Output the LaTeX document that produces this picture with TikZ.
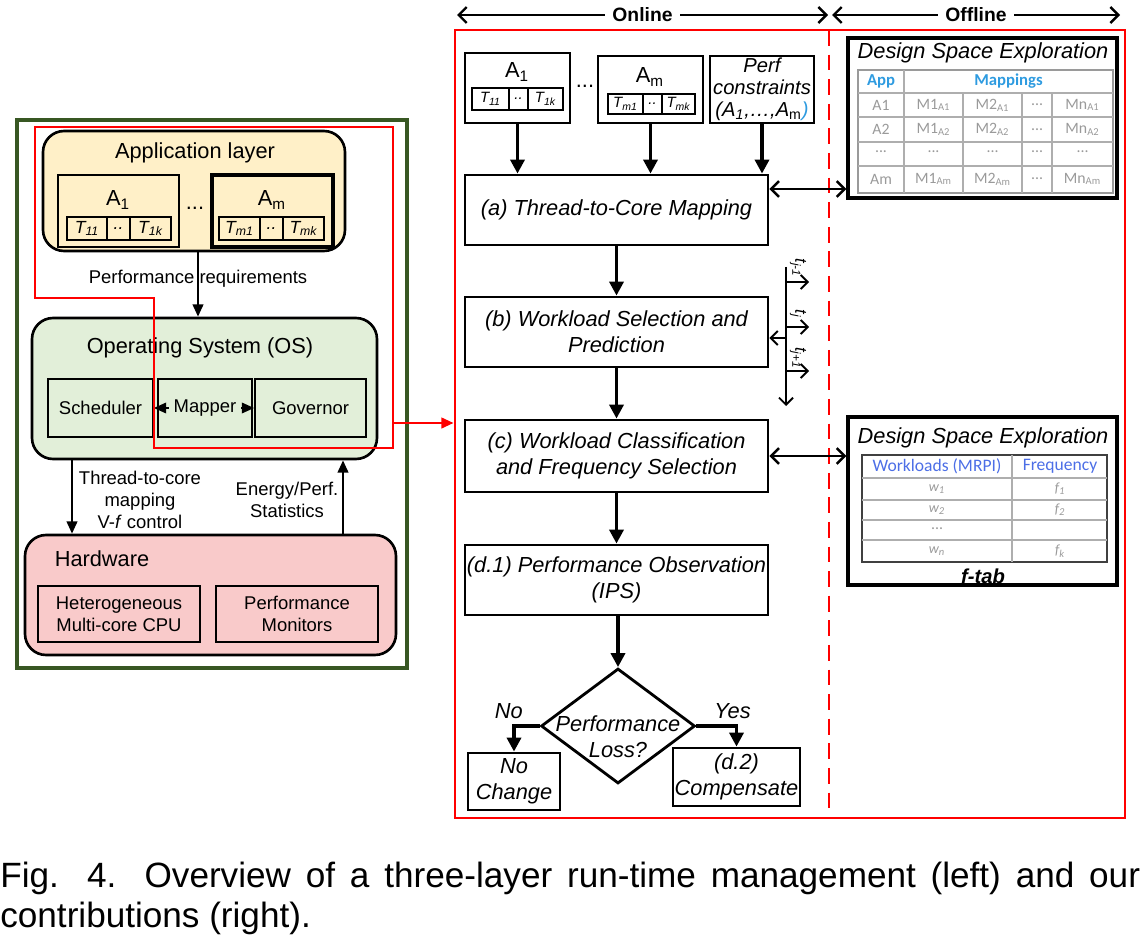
\documentclass[tikz,border=0pt]{standalone}
\usepackage{fontspec}
\setmainfont{Liberation Sans}
\newfontfamily\tabfont{Carlito}
\usetikzlibrary{positioning, arrows.meta, calc, fit, shapes.geometric}
\newcommand{\fsz}[2]{\fontsize{#1}{#2}\selectfont}
\definecolor{appfill}{HTML}{FFF0C8}
\definecolor{osfill}{HTML}{E2EFD9}
\definecolor{hwfill}{HTML}{F9CACA}
\definecolor{framegreen}{HTML}{385723}
\definecolor{hired}{HTML}{FF0000}
\definecolor{tabblue}{HTML}{2E9BE0}
\definecolor{tabviolet}{HTML}{4C6EE6}
\definecolor{tabgray}{HTML}{9A9A9A}

\begin{document}
\begin{tikzpicture}[x=0.02cm, y=-0.02cm,
  px/.style 2 args={minimum width=#1*0.02cm, minimum height=#2*0.02cm},
  layer/.style={draw, line width=1.5pt, rounded corners=12pt, inner sep=0pt},
  unit/.style={draw, line width=1pt, inner sep=0pt, align=center, font=\fsz{10.5}{12.6}},
  tcell/.style={draw, line width=1pt, inner sep=0pt, font=\fsz{10}{11}\itshape},
  rcell/.style={draw, line width=1pt, inner sep=0pt, font=\fsz{8.5}{9}\itshape},
  stage/.style={draw, line width=1.6pt, inner sep=0pt, align=center, font=\fsz{12.4}{14.8}\itshape},
  lbl/.style={align=center, font=\fsz{10.5}{12.6}},
  ttl/.style={font=\fsz{12.4}{14.8}},
  arr/.style={-{Triangle[length=7pt, width=6pt]}, line width=1.3pt},
  flow/.style={-{Triangle[length=8pt, width=8pt]}, line width=2pt},
  barb/.style={-{Straight Barb[length=4pt, width=8pt]}, line width=1.1pt},
  dbarb/.style={{Straight Barb[length=4.5pt, width=9pt]}-{Straight Barb[length=4.5pt, width=9pt]}, line width=1.4pt},
  hl/.style={draw=hired, line width=1.5pt},
  grid/.style={draw=tabgray!80, line width=0.8pt},
  tabtxt/.style={font=\tabfont\fsz{9}{10}, text=tabgray},
]
\useasboundingbox (0,0) rectangle (1148,942);

% === Three-layer run-time management (left) ===
\node[draw=framegreen, line width=2.2pt, inner sep=0pt, fit={(17,120) (407,668)}] (frame) {};

% application layer
\node[layer, fill=appfill, fit={(43,131) (345,251)}] (app) {};
\node[ttl] (apptitle) at (195,153) {Application layer};
\node[draw, line width=1.2pt, inner sep=0pt, fit={(58,175) (179,247)}] (appA) {};
\node[ttl] (appAlbl) at (118,200) {A\textsubscript{1}};
\node[tcell, px={40}{23}] (t11) at (87,228.5) {T\textsubscript{11}};
\node[tcell, px={23}{23}] (t1d) at (118.5,228.5) {..};
\node[tcell, px={41}{23}] (t1k) at (150.5,228.5) {T\textsubscript{1k}};
\node[ttl] (appdots) at (195,208) {...};
\node[draw, line width=1.8pt, inner sep=0pt, fit={(212,175) (333,247)}] (appB) {};
\node[ttl] (appBlbl) at (272,200) {A\textsubscript{m}};
\node[tcell, px={41}{23}] (tm1) at (239.5,228.5) {T\textsubscript{m1}};
\node[tcell, px={23}{23}] (tmd) at (271.5,228.5) {..};
\node[tcell, px={41}{23}] (tmk) at (303.5,228.5) {T\textsubscript{mk}};

% operating system
\node[layer, fill=osfill, fit={(32,318) (377,459)}] (os) {};
\node[ttl] (ostitle) at (200,348) {Operating System (OS)};
\node[unit, px={105}{58}] (sched) at (100.5,408) {Scheduler};
\node[unit, line width=1.6pt, px={94}{58}] (mapper) at (205,408) {Mapper};
\node[unit, px={111}{58}] (gov) at (310.5,408) {Governor};
\draw[arr, line width=1pt] ([xshift=7pt]mapper.west) -- (sched.east);
\draw[arr, line width=1pt] ([xshift=-7pt]mapper.east) -- (gov.west);

% hardware
\node[layer, fill=hwfill, fit={(25,535) (396,655)}] (hw) {};
\node[ttl] (hwtitle) at (102,559) {Hardware};
\node[unit, px={162}{56}] (cpu) at (119,614) {Heterogeneous\\Multi-core CPU};
\node[unit, px={162}{56}] (pmon) at (297,614) {Performance\\Monitors};

% interfaces between layers
\node[lbl] (prq) at (198,279) {Performance requirements};
\draw[arr] (app.south -| prq) -- (os.north -| prq);
\node[lbl] (tcm) at (140,500) {Thread-to-core\\mapping\\V-\textit{f} control};
\node[lbl] (eps) at (287,500) {Energy/Perf.\\Statistics};
\coordinate (dnx) at (72,0);
\coordinate (upx) at (343,0);
\draw[arr] (os.south -| dnx) -- (hw.north -| dnx);
\draw[arr] (hw.north -| upx) -- (os.south -| upx);

% highlighted part
\draw[hl] (35,127) -- (393,127) -- (393,448) -- (154,448) -- (154,298) -- (35,298) -- cycle;

% === Contributions (right) ===
\node[draw=hired, line width=1.6pt, inner sep=0pt, fit={(455,30) (1125,818)}] (panel) {};
\coordinate (split) at (829,30);
\draw[hired, line width=1.5pt, dash pattern=on 9pt off 5pt] (split) -- (split |- panel.south);
\coordinate (hlout) at (393,423);
\draw[hl, -{Triangle[length=7pt, width=6pt]}] (hlout) -- (hlout -| panel.west);

% online / offline
\coordinate (onl) at (457,15);
\coordinate (onr) at (828,15);
\coordinate (offl) at (832,15);
\coordinate (offr) at (1120,15);
\draw[dbarb] (onl) -- (onr) node[midway, fill=white, inner sep=4pt, font=\fsz{11}{13}\bfseries] {Online};
\draw[dbarb] (offl) -- (offr) node[midway, fill=white, inner sep=4pt, font=\fsz{11}{13}\bfseries] {Offline};

% inputs
\node[draw, line width=1.2pt, inner sep=0pt, fit={(465,53) (570,123)}] (inA) {};
\node[ttl] (inAlbl) at (517,72) {A\textsubscript{1}};
\node[rcell, px={37}{22}] (r11) at (490.5,99) {T\textsubscript{11}};
\node[rcell, px={19}{22}] (r1d) at (518.5,99) {..};
\node[rcell, px={35}{22}] (r1k) at (545.5,99) {T\textsubscript{1k}};
\node[ttl] (indots) at (585,86) {...};
\node[draw, line width=1.2pt, inner sep=0pt, fit={(598,56) (703,123)}] (inB) {};
\node[ttl] (inBlbl) at (650,77) {A\textsubscript{m}};
\node[rcell, px={35}{20}] (rm1) at (625.5,104) {T\textsubscript{m1}};
\node[rcell, px={19}{20}] (rmd) at (652.5,104) {..};
\node[rcell, px={33}{20}] (rmk) at (678.5,104) {T\textsubscript{mk}};
\node[draw, line width=1.2pt, inner sep=0pt, align=center, font=\fsz{11.5}{12.5}\itshape,
  px={104}{67}] (perf) at (762,89.5)
  {Perf\\constraints\\(A\textsubscript{1},\ldots,A\textsubscript{\upshape m}\textcolor{tabblue}{)}};

% stages
\node[stage, px={303}{70}] (map) at (616.5,210) {(a) Thread-to-Core Mapping};
\node[stage, px={303}{70}] (wsel) at (616.5,332) {(b) Workload Selection and\\Prediction};
\node[stage, px={303}{72}] (wcls) at (616.5,456) {(c) Workload Classification\\and Frequency Selection};
\node[stage, px={303}{70}] (obs) at (616.5,580) {(d.1) Performance Observation\\(IPS)};
\node[draw, line width=1.6pt, shape=diamond, inner sep=0pt, minimum width=3.08cm,
  minimum height=2.3cm] (loss) at (618,726) {};
\node[font=\fsz{12.4}{14.8}\itshape, align=center] (losslbl) at (618,737) {Performance\\Loss?};
\node[stage, px={92}{57}] (nochg) at (514,781.5) {No\\Change};
\node[stage, px={127}{58}] (comp) at (736.5,777) {(d.2)\\Compensate};

\draw[flow] (inA.south) -- (inA.south |- map.north);
\draw[flow] (inB.south) -- (inB.south |- map.north);
\draw[flow] (perf.south) -- (perf.south |- map.north);
\draw[flow] (map) -- (wsel);
\draw[flow] (wsel) -- (wcls);
\draw[flow] (wcls) -- (obs);
\draw[flow] (obs.south -| loss.north) -- (loss.north);
\draw[flow] (loss.west) -| (nochg.north) node[pos=0.5, above=0pt, xshift=-3pt, font=\fsz{12.4}{14.8}\itshape] {No};
\draw[flow] (loss.east) -| (comp.north) node[pos=0.45, above=0pt, font=\fsz{12.4}{14.8}\itshape] {Yes};

% time axis
\coordinate (ttop) at (786,267);
\coordinate (tbot) at (786,406);
\draw[barb] (ttop) -- (tbot);
\foreach \y/\ly/\t in {282/268/{j-1}, 327/314/{j}, 371/358/{j+1}} {
  \draw[barb] (786,\y) -- (809,\y);
  \node[rotate=-90, font=\fsz{9.5}{10}\itshape, inner sep=0pt] at (798,\ly) {t\textsubscript{\t}};
}
\coordinate (tin) at (786,338);
\draw[barb] (tin) -- (tin -| wsel.east);

% === Design space exploration (offline) ===
\node[draw, line width=1.8pt, inner sep=0pt, fit={(848,38) (1117,198)}] (dse1) {};
\node[font=\fsz{12.4}{14.8}\itshape] (dse1ttl) at (983,53) {Design Space Exploration};
\draw[grid, draw=tabgray, line width=1.1pt] (858,70) rectangle (1113,193);
\foreach \y in {93,117,142,166} \draw[grid] (858,\y) -- (1113,\y);
\draw[grid] (904,70) -- (904,193);
\foreach \x in {963,1022,1052} \draw[grid] (\x,93) -- (\x,193);
\node[font=\tabfont\bfseries\fsz{9.5}{10}, text=tabblue] at (881,81.5) {App};
\node[font=\tabfont\bfseries\fsz{9.5}{10}, text=tabblue] at (1008.5,81.5) {Mappings};
\foreach \y/\r in {105/1, 129.5/2, 179/m} {
  \node[tabtxt] at (881,\y) {A\r};
  \node[tabtxt] at (933.5,\y) {M1\textsubscript{A\r}};
  \node[tabtxt] at (992.5,\y) {M2\textsubscript{A\r}};
  \node[tabtxt] at (1037,\y) {...};
  \node[tabtxt] at (1082.5,\y) {Mn\textsubscript{A\r}};
}
\foreach \x in {881,933.5,992.5,1037,1082.5} \node[tabtxt] at (\x,152) {...};

\node[draw, line width=1.8pt, inner sep=0pt, fit={(848,417) (1117,585)}] (dse2) {};
\node[font=\fsz{12.4}{14.8}\itshape] (dse2ttl) at (983,438) {Design Space Exploration};
\draw[grid, draw=black!75, line width=1.4pt] (862,455) rectangle (1107,562);
\foreach \y in {478,500,520,540} \draw[grid] (862,\y) -- (1107,\y);
\draw[grid] (1012,455) -- (1012,562);
\node[font=\tabfont\fsz{10}{11}, text=tabviolet] at (937,466) {Workloads (MRPI)};
\node[font=\tabfont\fsz{10}{11}, text=tabviolet] at (1060,466) {Frequency};
\foreach \y/\w/\f in {489/w\textsubscript{1}/f\textsubscript{1}, 510/w\textsubscript{2}/f\textsubscript{2}, 551/w\textsubscript{n}/f\textsubscript{k}} {
  \node[tabtxt, font=\tabfont\fsz{8}{9}\itshape] at (937,\y) {\w};
  \node[tabtxt, font=\tabfont\fsz{8}{9}\itshape] at (1060,\y) {\f};
}
\node[tabtxt] at (937,529) {...};
\node[font=\fsz{11.5}{13}\bfseries\itshape] (ftab) at (983,576) {f-tab};

\draw[dbarb] (map.east |- 0,189) -- (dse1.west |- 0,189);
\draw[dbarb] (wcls.east) -- (wcls.east -| dse2.west);

% === Caption ===
\node[anchor=north west, inner sep=0pt, text width=22.8cm, align=justify,
  font=\fsz{20}{22.5}] (caption) at (0,862)
  {Fig. 4. Overview of a three-layer run-time management (left) and our \mbox{contributions} (right).};

\end{tikzpicture}
\end{document}
